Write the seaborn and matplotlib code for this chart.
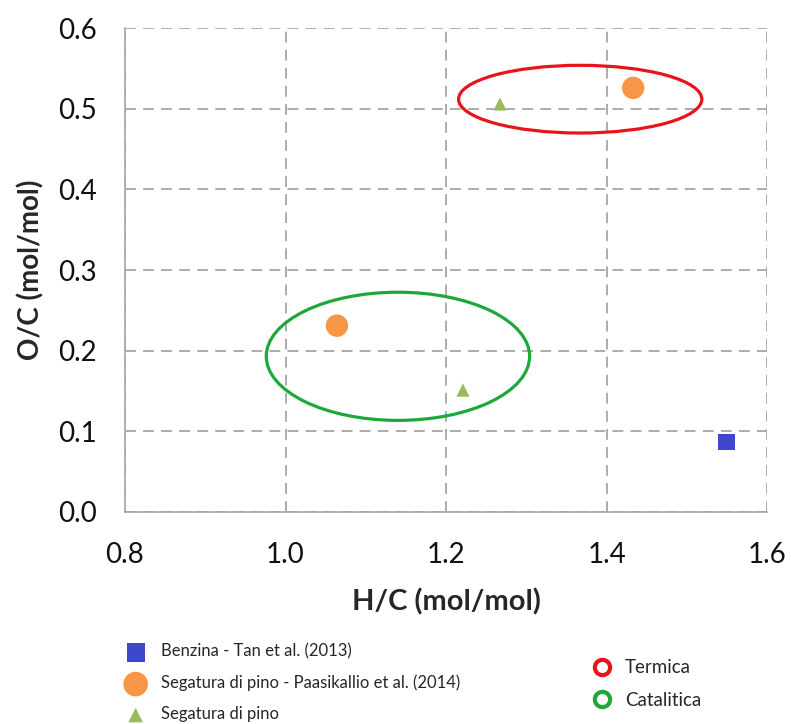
import pandas as pd
import seaborn as sns
import matplotlib.pyplot as plt
from matplotlib.patches import Ellipse
from matplotlib.lines import Line2D

# data
serie = ['Benzina - Tan et al. (2013)',
         'Segatura di pino - Paasikallio et al. (2014)',
         'Segatura di pino - Paasikallio et al. (2014)',
         'Segatura di pino',
         'Segatura di pino']
hc = [1.549, 1.433, 1.064, 1.267, 1.221]
oc = [0.087, 0.526, 0.231, 0.506, 0.151]

# ellipses: label, centre x, centre y, width, height
ell_labels = ['Termica', 'Catalitica']
ell_x = [1.367, 1.140]
ell_y = [0.512, 0.193]
ell_w = [0.303, 0.328]
ell_h = [0.084, 0.159]
ell_col = ['#E8141C', '#1FA83A']

x_ticks = [0.8, 1.0, 1.2, 1.4, 1.6]
y_ticks = [0.0, 0.1, 0.2, 0.3, 0.4, 0.5, 0.6]

df = pd.DataFrame({'H/C': hc, 'O/C': oc, 'serie': serie})

sns.set_style('white')
plt.rcParams['font.family'] = ['Lato', 'DejaVu Sans']

order = ['Benzina - Tan et al. (2013)',
         'Segatura di pino - Paasikallio et al. (2014)',
         'Segatura di pino']
pal = {order[0]: '#3F48CC', order[1]: '#F79646', order[2]: '#9BBB59'}
mk = {order[0]: 's', order[1]: 'o', order[2]: '^'}
sz = {order[0]: 140, order[1]: 260, order[2]: 90}

fig = plt.figure(figsize=(7.91, 7.24), dpi=100, facecolor='white')
ax = fig.add_axes([0.158, 0.293, 0.812, 0.668])

for s in order:
    sub = df[df['serie'] == s]
    sns.scatterplot(data=sub, x='H/C', y='O/C', color=pal[s], marker=mk[s],
                    s=sz[s], edgecolor='none', ax=ax, label=s, zorder=3)

for i in range(len(ell_labels)):
    ax.add_patch(Ellipse((ell_x[i], ell_y[i]), ell_w[i], ell_h[i], fill=False,
                         edgecolor=ell_col[i], lw=2.3, zorder=4))

ax.set_xlim(0.8, 1.6)
ax.set_ylim(0.0, 0.6)
ax.set_xticks(x_ticks)
ax.set_yticks(y_ticks)
ax.set_xticklabels([f'{v:.1f}' for v in x_ticks])
ax.set_yticklabels([f'{v:.1f}' for v in y_ticks])
ax.grid(True, color='#A6A6A6', linestyle=(0, (6, 4)), lw=1.3)
ax.set_axisbelow(True)
sns.despine(ax=ax, top=True, right=True)
for sp in ['left', 'bottom']:
    ax.spines[sp].set_color('#A6A6A6')
    ax.spines[sp].set_linewidth(1.2)
ax.tick_params(axis='both', direction='out', length=9, width=1.2, color='#A6A6A6',
               labelsize=20, labelcolor='#111111')
ax.tick_params(axis='x', pad=13)
ax.tick_params(axis='y', pad=11)
ax.set_xlabel('H/C (mol/mol)', fontsize=21, fontweight='bold', color='#262626', labelpad=14)
ax.set_ylabel('O/C (mol/mol)', fontsize=20, fontweight='bold', color='#262626', labelpad=10)

h, l = ax.get_legend_handles_labels()
ax.get_legend().remove()
leg1 = fig.legend(h, l, loc='upper left', bbox_to_anchor=(0.142, 0.12), frameon=False,
                  fontsize=12, handletextpad=0.5, labelspacing=0.9, borderaxespad=0,
                  markerscale=1.1)

h2 = [Line2D([], [], ls='none', marker='o', markersize=11, markerfacecolor='white',
             markeredgecolor=c, markeredgewidth=3) for c in ell_col]
leg2 = fig.legend(h2, ell_labels, loc='upper left', bbox_to_anchor=(0.733, 0.1),
                  frameon=False, fontsize=13.5, handletextpad=0.4, labelspacing=0.85,
                  borderaxespad=0, handlelength=1.6)

fig.savefig('out.png', dpi=100, facecolor='white')
